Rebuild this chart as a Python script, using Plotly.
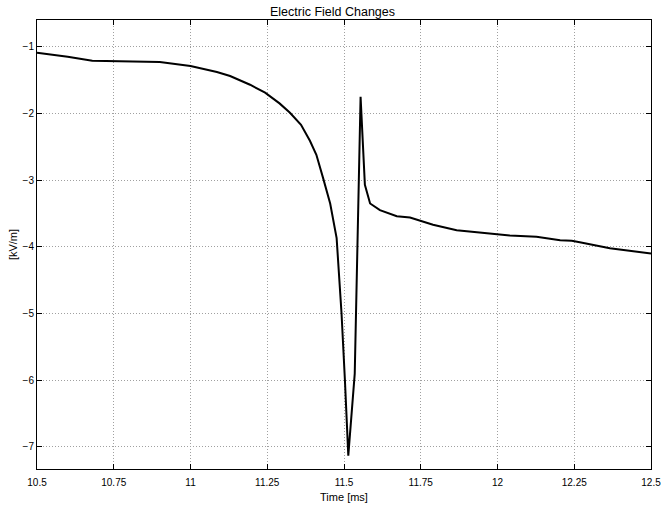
import plotly.graph_objects as go

time_ms = [10.5, 10.6, 10.68, 10.75, 10.9, 11.0, 11.086, 11.129, 11.194, 11.243, 11.29,
           11.324, 11.36, 11.389, 11.41, 11.432, 11.455, 11.476, 11.492, 11.503, 11.514,
           11.535, 11.548, 11.554, 11.568, 11.585, 11.617, 11.672, 11.715, 11.748, 11.79,
           11.867, 11.932, 11.985, 12.04, 12.127, 12.204, 12.242, 12.268, 12.366, 12.469, 12.5]
field_kvm = [-1.09, -1.15, -1.21, -1.22, -1.23, -1.29, -1.38, -1.44, -1.57, -1.69, -1.85,
             -1.99, -2.17, -2.41, -2.62, -2.97, -3.35, -3.87, -5.0, -6.0, -7.13,
             -5.9, -3.0, -1.75, -3.07, -3.35, -3.45, -3.54, -3.56, -3.61, -3.67,
             -3.75, -3.78, -3.8, -3.83, -3.85, -3.9, -3.91, -3.93, -4.02, -4.08, -4.1]

x_ticks = [10.5, 10.75, 11, 11.25, 11.5, 11.75, 12, 12.25, 12.5]
x_tick_text = ["10.5", "10.75", "11", "11.25", "11.5", "11.75", "12", "12.25", "12.5"]
y_ticks = [-1, -2, -3, -4, -5, -6, -7]

font_fam = "Liberation Sans Narrow, Arial Narrow, Liberation Sans, Arial"

fig = go.Figure()
fig.add_trace(go.Scatter(x=time_ms, y=field_kvm, mode="lines",
                         line=dict(color="black", width=2), showlegend=False))

axis_common = dict(showline=True, linecolor="black", linewidth=1, mirror="ticks",
                   ticks="inside", ticklen=5, tickcolor="black", automargin=False,
                   showgrid=True, gridcolor="#a0a0a0", griddash="1px,2px", gridwidth=1,
                   zeroline=False, tickfont=dict(family=font_fam, size=10, color="black"))

fig.update_layout(
    width=665, height=509,
    margin=dict(l=37, r=14, t=20, b=40),
    paper_bgcolor="white", plot_bgcolor="white",
    title=dict(text="Electric Field Changes", x=0.5, xanchor="center",
               y=1 - 12 / 509, yanchor="middle",
               font=dict(family=font_fam, size=12.5, color="black")),
    xaxis=dict(range=[10.5, 12.5], tickvals=x_ticks, ticktext=x_tick_text,
               ticklabelstandoff=4,
               title=dict(text="Time [ms]", font=dict(family=font_fam, size=11, color="black"),
                          standoff=6), **axis_common),
    yaxis=dict(range=[-7.33, -0.6], tickvals=y_ticks,
               title=dict(text="[kV/m]", font=dict(family=font_fam, size=11, color="black"),
                          standoff=2), **axis_common),
)

fig.write_html("out.html", config={"displayModeBar": False},
               post_script="document.body.style.margin='0';document.body.style.overflow='hidden';")
